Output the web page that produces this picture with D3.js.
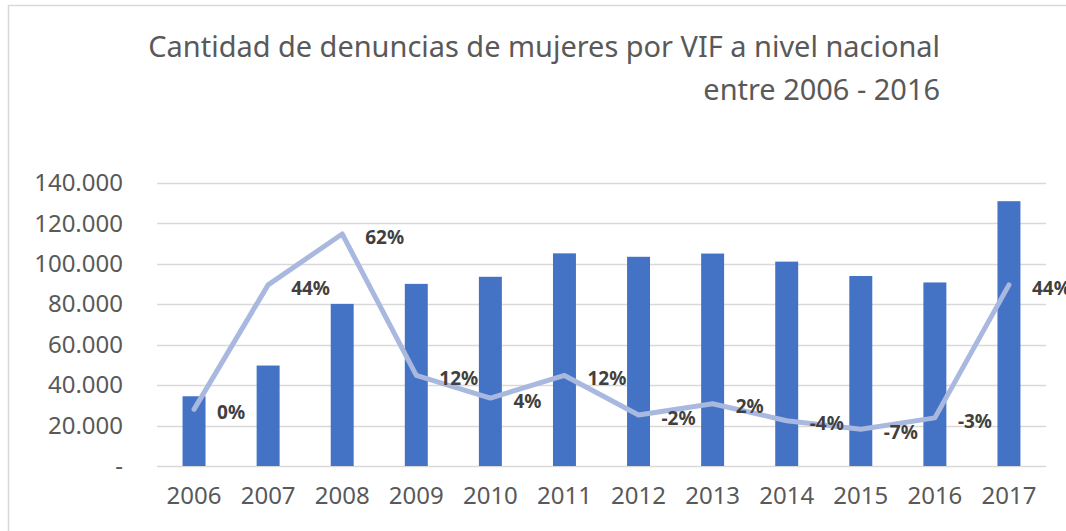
<!DOCTYPE html>
<html>
<head>
<meta charset="utf-8">
<script src="https://cdn.jsdelivr.net/npm/d3@7"></script>
<style>
  body { margin: 0; background: #fff; }
  svg { display: block; font-family: "Noto Sans", "Open Sans", sans-serif; }
</style>
</head>
<body>
<div id="chart"></div>
<script>
// datos
const years = ['2006', '2007', '2008', '2009', '2010', '2011', '2012', '2013', '2014', '2015', '2016', '2017'];
const denuncias = [34500, 49700, 80200, 90100, 93600, 105200, 103500, 105100, 101100, 94000, 90800, 131000];
const variacion = [0, 0.44, 0.62, 0.12, 0.04, 0.12, -0.02, 0.02, -0.04, -0.07, -0.03, 0.44];
const yTicks = [0, 20000, 40000, 60000, 80000, 100000, 120000, 140000];
const titleLines = ['Cantidad de denuncias de mujeres por VIF a nivel nacional', 'entre 2006 - 2016'];

const W = 1066, H = 531;
const margin = { top: 183, right: 20, bottom: 65, left: 157 };

const svg = d3.select('#chart').append('svg')
    .attr('width', W)
    .attr('height', H);

// borde del gráfico
svg.append('rect')
    .attr('x', 8.5).attr('y', 5.5)
    .attr('width', W + 10).attr('height', H + 10)
    .attr('fill', 'none')
    .attr('stroke', '#d9d9d9')
    .attr('stroke-width', 1.5);

let x = d3.scaleBand()
    .domain(years)
    .range([margin.left, 1046])
    .paddingInner(0.69)
    .paddingOuter(0.345);

let y = d3.scaleLinear().domain([0, 140000]).range([466, 183]);
let y2 = d3.scaleLinear().domain([-0.2, 0.8]).range([466, 183]);

// grid
svg.append('g')
    .selectAll('line')
    .data(yTicks)
    .join('line')
    .attr('x1', margin.left)
    .attr('x2', 1046)
    .attr('y1', d => Math.round(y(d)) + 0.5)
    .attr('y2', d => Math.round(y(d)) + 0.5)
    .attr('stroke', '#d9d9d9')
    .attr('stroke-width', 1.5);

// eje y
let fmt = d => d === 0 ? '-' : d3.format(',')(d).replace(/,/g, '.');
svg.append('g')
    .attr('transform', 'translate(123,0)')
    .call(d3.axisLeft(y).tickValues(yTicks).tickFormat(fmt).tickSize(0).tickPadding(0))
    .call(g => g.select('.domain').remove())
    .call(g => g.selectAll('text')
        .attr('fill', '#595959')
        .style('font-size', '24px')
        .style('font-family', '"Noto Sans", sans-serif'));

// eje x
svg.append('g')
    .attr('transform', 'translate(0,466)')
    .call(d3.axisBottom(x).tickSize(0).tickPadding(21))
    .call(g => g.select('.domain').remove())
    .call(g => g.selectAll('text')
        .attr('fill', '#595959')
        .style('font-size', '24px')
        .style('font-family', '"Noto Sans", sans-serif'));

// barras
svg.append('g')
    .selectAll('rect')
    .data(denuncias)
    .join('rect')
    .attr('x', (d, i) => x(years[i]))
    .attr('width', x.bandwidth())
    .attr('y', d => y(d))
    .attr('height', d => y(0) - y(d))
    .attr('fill', '#4472c4');

// línea de variación
let line = d3.line()
    .x((d, i) => x(years[i]) + x.bandwidth() / 2)
    .y(d => y2(d));

svg.append('path')
    .datum(variacion)
    .attr('d', line)
    .attr('fill', 'none')
    .attr('stroke', '#a9b8de')
    .attr('stroke-width', 5)
    .attr('stroke-linecap', 'round')
    .attr('stroke-linejoin', 'round');

// etiquetas
svg.append('g')
    .selectAll('text')
    .data(variacion)
    .join('text')
    .attr('x', (d, i) => x(years[i]) + x.bandwidth() / 2 + 23)
    .attr('y', d => y2(d) + 3)
    .attr('dy', '0.35em')
    .attr('fill', '#404040')
    .style('font-size', '19px')
    .style('font-weight', 'bold')
    .text(d => Math.round(d * 100) + '%');

// título
let title = svg.append('g').attr('text-anchor', 'end');
let t1 = title.append('text')
    .attr('x', 940).attr('y', 57)
    .attr('fill', '#595959')
    .style('font-size', '28px')
    .text(titleLines[0]);
let scale = 792 / t1.node().getComputedTextLength();
let fs = 28 * scale;
t1.style('font-size', fs + 'px');
title.append('text')
    .attr('x', 940).attr('y', 100)
    .attr('fill', '#595959')
    .style('font-size', fs + 'px')
    .text(titleLines[1]);
</script>
</body>
</html>
